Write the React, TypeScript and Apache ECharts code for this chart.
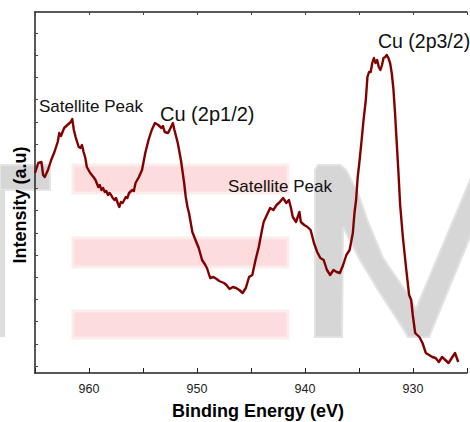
import React, { useEffect, useRef } from "react";
import * as echarts from "echarts";

// Binding energy (eV) vs intensity (a.u.)
const spectrum: [number, number][] = [
  [965.0, 200], [964.7, 210], [964.4, 211], [964.25, 198], [964.1, 196], [963.8, 203],
  [963.5, 213], [963.2, 221], [962.9, 231], [962.75, 240], [962.6, 237], [962.45, 241],
  [962.3, 245], [962.0, 248], [961.69, 251], [961.55, 254], [961.4, 243], [961.24, 236],
  [961.1, 231], [960.95, 226], [960.79, 225], [960.65, 228], [960.5, 221], [960.34, 215],
  [960.2, 206], [959.89, 200], [959.59, 196], [959.4, 193], [959.14, 186], [959.0, 188],
  [958.85, 183], [958.7, 185], [958.54, 181], [958.4, 182], [958.24, 178], [958.1, 180],
  [957.95, 178], [957.8, 175], [957.64, 173], [957.5, 175], [957.34, 170], [957.19, 166],
  [957.05, 171], [956.89, 170], [956.59, 176], [956.45, 175], [956.29, 180], [955.99, 183],
  [955.85, 182], [955.69, 190], [955.38, 196], [955.09, 203], [954.79, 220], [954.49, 233],
  [954.19, 243], [953.89, 250], [953.59, 248], [953.29, 245], [953.15, 247], [952.99, 241],
  [952.68, 240], [952.54, 243], [952.23, 250], [952.09, 243], [951.78, 230], [951.49, 213],
  [951.19, 190], [951.04, 176], [950.88, 166], [950.74, 160], [950.43, 141], [950.14, 133],
  [949.84, 125], [949.53, 113], [949.23, 108], [949.08, 105], [948.78, 95], [948.49, 96],
  [948.18, 94], [947.95, 92], [947.73, 91], [947.5, 90], [947.28, 88], [946.98, 84],
  [946.68, 86], [946.38, 85], [946.08, 83], [945.78, 80], [945.48, 85], [945.18, 96],
  [944.88, 98], [944.58, 113], [944.28, 126], [943.98, 143], [943.83, 151], [943.53, 158],
  [943.23, 165], [942.93, 163], [942.63, 168], [942.33, 171], [942.03, 175], [941.73, 170],
  [941.49, 173], [941.3, 165], [941.13, 156], [940.83, 151], [940.52, 161], [940.38, 151],
  [940.07, 148], [939.77, 146], [939.48, 143], [939.17, 130], [938.87, 121], [938.58, 115],
  [938.27, 113], [937.97, 103], [937.67, 98], [937.36, 103], [937.07, 101], [936.77, 100],
  [936.47, 108], [936.17, 118], [935.87, 123], [935.57, 140], [935.42, 160], [935.27, 173],
  [935.12, 196], [934.97, 210], [934.82, 226], [934.58, 253], [934.37, 273], [934.22, 296],
  [934.07, 301], [933.92, 301], [933.77, 310], [933.62, 315], [933.47, 310], [933.32, 313],
  [933.17, 306], [933.02, 303], [932.87, 308], [932.73, 315], [932.57, 316], [932.43, 318],
  [932.28, 315], [932.12, 310], [931.97, 300], [931.82, 285], [931.67, 261], [931.52, 233],
  [931.35, 201], [931.19, 168], [930.93, 135], [930.64, 105], [930.36, 78], [930.17, 73],
  [930.02, 58], [929.8, 40], [929.41, 36], [929.12, 30], [928.81, 20], [928.51, 18],
  [928.21, 16], [927.91, 15], [927.61, 11], [927.31, 16], [927.01, 13], [926.71, 10],
  [926.41, 15], [926.11, 20], [925.81, 11],
];

const xMin = 925;
const xMax = 965;
const xStep = 5;
const yMin = 0;
const yMax = 361;
const yTickValues = [7, 29.2, 51.4, 73.6, 95.8, 118, 140.2, 162.4, 184.6, 206.8, 229, 251.2, 273.4, 295.6, 317.8, 340];

const annotations = [
  { text: "Satellite Peak", x: 39, y: 106, size: 17 },
  { text: "Cu (2p1/2)", x: 160, y: 114, size: 20 },
  { text: "Satellite Peak", x: 228, y: 186, size: 17 },
  { text: "Cu (2p3/2)", x: 378, y: 41, size: 19.5 },
];

const FONT = "'Liberation Sans', Arial, sans-serif";

export default function App() {
  const ref = useRef<HTMLDivElement>(null);
  useEffect(() => {
    document.body.style.margin = "0";
    if (!ref.current) return;
    const chart = echarts.init(ref.current, undefined, { renderer: "svg" });
    const pinkStyle = { fill: "#fcdcdc", stroke: "#fdecec", lineWidth: 3 };
    const gray = "#d6d6d6";
    const option: any = {
      animation: false,
      backgroundColor: "#ffffff",
      grid: { left: 35, top: 12, width: 444, height: 361 },
      xAxis: [
        {
          type: "value",
          min: xMin,
          max: xMax,
          interval: xStep,
          inverse: true,
          position: "bottom",
          axisLine: { lineStyle: { color: "#222", width: 1.5 } },
          axisTick: { inside: true, length: 5, lineStyle: { color: "#222", width: 1 } },
          axisLabel: {
            formatter: (v: number) => (v % 10 === 0 ? String(v) : ""),
            color: "#222",
            fontSize: 12.5,
            fontFamily: FONT,
            margin: 9,
          },
          splitLine: { show: false },
        },
        {
          type: "value",
          min: xMin,
          max: xMax,
          interval: xStep,
          inverse: true,
          position: "top",
          axisLine: { lineStyle: { color: "#222", width: 1.5 } },
          axisTick: { inside: true, length: 3, lineStyle: { color: "#444", width: 1 } },
          axisLabel: { show: false },
          splitLine: { show: false },
        },
      ],
      yAxis: {
        type: "value",
        min: yMin,
        max: yMax,
        axisLine: { show: true, lineStyle: { color: "#222", width: 1.5 } },
        axisTick: { show: true, inside: true, length: 3, customValues: yTickValues, lineStyle: { color: "#444" } },
        axisLabel: { show: false },
        splitLine: { show: false },
      },
      series: [
        {
          type: "line",
          data: spectrum,
          showSymbol: false,
          lineStyle: { color: "#820000", width: 2.4, join: "round" },
          z: 5,
        },
      ],
      graphic: [
        { type: "rect", z: -1, shape: { x: 73, y: 165, width: 215, height: 28 }, style: pinkStyle },
        { type: "rect", z: -1, shape: { x: 73, y: 238, width: 215, height: 29 }, style: pinkStyle },
        { type: "rect", z: -1, shape: { x: 73, y: 311, width: 215, height: 27 }, style: pinkStyle },
        { type: "rect", z: -1, shape: { x: 0, y: 165, width: 50, height: 25 }, style: { fill: gray, stroke: "#e4e4e4", lineWidth: 2 } },
        { type: "rect", z: -1, shape: { x: 0, y: 190, width: 5, height: 147 }, style: { fill: "#dedede" } },
        {
          type: "polygon",
          z: -1,
          shape: {
            points: [
              [315, 170], [318, 165], [340, 165], [346, 170], [358, 193], [368, 222], [383, 258],
              [407, 293], [416, 309], [466, 190], [476, 165], [500, 165], [447, 293], [429, 337],
              [408, 337], [402, 327], [380, 293], [360, 260], [343, 227], [342, 337], [315, 337],
            ],
          },
          style: { fill: gray, stroke: "#e2e2e2", lineWidth: 2 },
        },
        ...annotations.map((a) => ({
          type: "text",
          z: 10,
          x: a.x,
          y: a.y,
          style: {
            text: a.text,
            fontSize: a.size,
            fontFamily: FONT,
            fill: "#111",
            align: "left",
            verticalAlign: "middle",
          },
        })),
        {
          type: "text",
          z: 10,
          x: 258,
          y: 411,
          style: {
            text: "Binding Energy (eV)",
            fontSize: 18,
            fontWeight: "bold",
            fontFamily: FONT,
            fill: "#000",
            align: "center",
            verticalAlign: "middle",
          },
        },
        {
          type: "text",
          z: 10,
          x: 20,
          y: 205,
          rotation: Math.PI / 2,
          style: {
            text: "Intensity (a.u)",
            fontSize: 18,
            fontWeight: "bold",
            fontFamily: FONT,
            fill: "#000",
            align: "center",
            verticalAlign: "middle",
          },
        },
      ],
    };
    chart.setOption(option);
    return () => chart.dispose();
  }, []);
  return <div ref={ref} style={{ width: 470, height: 422 }} />;
}
